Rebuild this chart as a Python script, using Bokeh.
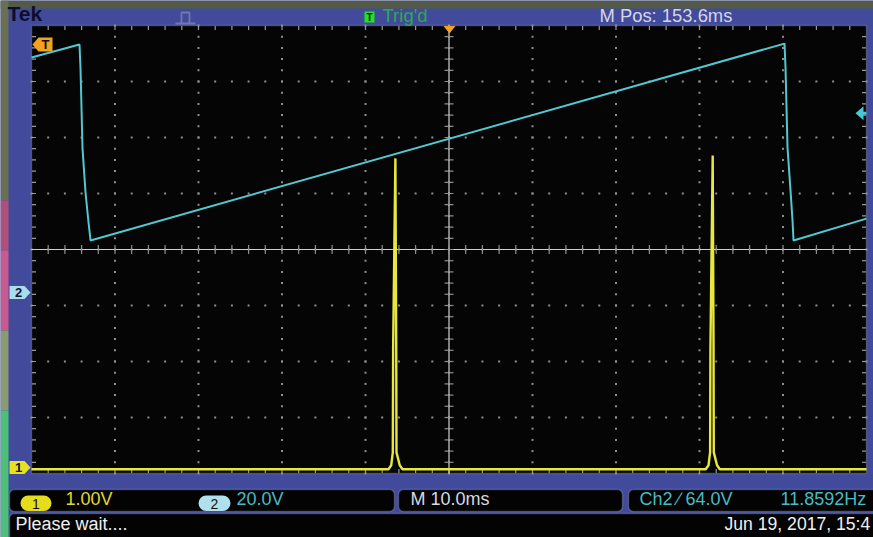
import numpy as np
from bokeh.plotting import figure
from bokeh.models import Range1d, Label, BoxAnnotation, PolyAnnotation
from bokeh.embed import file_html
from bokeh.resources import INLINE

# ---------------- scope settings ----------------
TIME_PER_DIV_MS = 10.0
CH1_VOLTS_PER_DIV = 1.0
CH2_VOLTS_PER_DIV = 20.0
CH1_POSITION_DIV = -3.893
CH2_POSITION_DIV = -0.768
TRIGGER_LEVEL_V = 64.0

# ---------------- channel 2 (cyan sawtooth) ----------------
ch2_time_ms = [-50.0, -44.25, -44.13, -43.89, -43.53, -43.17, -42.93,
               40.18, 40.30, 40.54, 40.90, 41.14, 41.26, 50.0]
ch2_volts = [83.9, 88.6, 80.0, 51.4, 35.7, 25.0, 18.6,
             88.9, 80.4, 51.8, 36.4, 25.7, 18.6, 26.4]

# ---------------- channel 1 (yellow pulses) ----------------
ch1_time_ms = [-50.0, -7.25, -6.92, -6.73, -6.69, -6.42, -6.32, -6.29, -5.90, -5.57,
               30.75, 31.08, 31.27, 31.31, 31.58, 31.68, 31.71, 32.10, 32.43, 50.0]
ch1_volts = [-0.03, -0.03, 0.04, 0.27, 2.14, 5.52, 2.14, 0.27, 0.04, -0.03,
             -0.03, 0.04, 0.27, 2.14, 5.57, 2.14, 0.27, 0.04, -0.03, -0.03]

# ---------------- readouts ----------------
brand = "Tek"
trig_state = "Trig'd"
m_pos = "M Pos: 153.6ms"
ch1_scale_txt = "1.00V"
ch2_scale_txt = "20.0V"
timebase_txt = "M 10.0ms"
trig_txt = "Ch2 \u2215 64.0V"
freq_txt = "11.8592Hz"
status_txt = "Please wait...."
date_txt = "Jun 19, 2017, 15:4"

# ---------------- geometry helpers (window px -> data) ----------------
W, H = 873, 537
FR_L, FR_T, FR_W, FR_H = 31, 25, 835, 448
XC = FR_L + FR_W / 2.0
YC = FR_T + FR_H / 2.0
PX_MS = FR_W / (10 * TIME_PER_DIV_MS)
PX_DIV = FR_H / 8.0


def X(px):
    return (px - XC) / PX_MS


def Y(py):
    return (YC - py) / PX_DIV


def ch_range(pos, scale):
    return Range1d((Y(H) - pos) * scale, (Y(0) - pos) * scale)


BLUE = "#414a9b"
p = figure(width=W, height=H,
           x_range=Range1d(X(0), X(W)), y_range=Range1d(Y(H), Y(0)),
           output_backend="svg", toolbar_location=None,
           x_axis_location=None, y_axis_location=None,
           min_border=0, background_fill_color=BLUE, border_fill_color=BLUE,
           outline_line_color=None)
p.grid.visible = False

# wallpaper strips around the screen
for l, r, t, b, col in [(0, W, 0, 8, "#545a48"), (0, 8, 0, 200, "#6a7052"),
                        (0, 8, 200, 250, "#b0507a"), (0, 8, 250, 330, "#c85a90"),
                        (0, 8, 330, 410, "#8a9a72"), (0, 8, 410, H, "#4cc078")]:
    p.add_layout(BoxAnnotation(left=X(l), right=X(r), top=Y(t), bottom=Y(b),
                               fill_color=col, fill_alpha=1, line_color=None, level="underlay"))

# screen area
p.add_layout(BoxAnnotation(left=-50, right=50, bottom=-4, top=4, fill_color="#050505", fill_alpha=1,
                           line_color="#b4b8cc", line_width=1.5, level="underlay"))

x_major = [-40, -30, -20, -10, 0, 10, 20, 30, 40]
y_major = [-3, -2, -1, 0, 1, 2, 3]
x_minor = [float(v) for v in np.arange(-48, 48.01, 2.0)]
y_minor = [float(v) for v in np.round(np.arange(-3.8, 3.801, 0.2), 3)]

# dotted graticule
gxs, gys = [], []
for xm in x_major:
    for ym in [-4.0] + y_minor + [4.0]:
        gxs.append(xm); gys.append(ym)
for ym in y_major:
    for xm in [-50.0] + x_minor + [50.0]:
        gxs.append(xm); gys.append(ym)
p.scatter(gxs, gys, marker="square", size=2, fill_color="#8e8e8e", line_color=None)

# edge ticks
tk = dict(marker="dash", size=4, line_color="#9a9a9a", line_width=1.2)
p.scatter(x_minor, [4 - 2.5 / PX_DIV] * len(x_minor), angle=np.pi / 2, **tk)
p.scatter(x_minor, [-4 + 2.5 / PX_DIV] * len(x_minor), angle=np.pi / 2, **tk)
p.scatter([-50 + 2.5 / PX_MS] * len(y_minor), y_minor, **tk)
p.scatter([50 - 2.5 / PX_MS] * len(y_minor), y_minor, **tk)

# centre cross-hair
p.segment(x0=[0, -50], y0=[-4, 0], x1=[0, 50], y1=[4, 0], line_color="#d0d0d0", line_width=1.2)
p.scatter(x=[0] * len(y_minor), y=y_minor, marker="dash", size=9, line_color="#8e8e8e", line_width=1.2)
p.scatter(x=x_minor, y=[0] * len(x_minor), marker="dash", angle=np.pi / 2, size=9,
          line_color="#8e8e8e", line_width=1.2)

# channel ranges
p.extra_y_ranges = {"ch1": ch_range(CH1_POSITION_DIV, CH1_VOLTS_PER_DIV),
                    "ch2": ch_range(CH2_POSITION_DIV, CH2_VOLTS_PER_DIV)}

p.line(ch1_time_ms, ch1_volts, y_range_name="ch1", line_color="#e8e83c", line_width=2.4)
p.line(ch2_time_ms, ch2_volts, y_range_name="ch2", line_color="#52c8d2", line_width=2.0)

ORANGE = "#f2a21e"
# trigger position marker (top) and T marker (left)
p.add_layout(PolyAnnotation(xs=[X(443), X(455), X(449)], ys=[Y(25.5), Y(25.5), Y(33)],
                            fill_color=ORANGE, fill_alpha=1, line_color=None))
p.add_layout(PolyAnnotation(xs=[X(32), X(38), X(52), X(52), X(38)], ys=[Y(44), Y(37), Y(37), Y(51), Y(51)],
                            fill_color=ORANGE, fill_alpha=1, line_color=None))
p.add_layout(Label(x=X(45), y=Y(44), text="T", text_font="Liberation Sans", text_font_style="bold",
                   text_font_size="13px", text_color="#111111", text_align="center", text_baseline="middle"))
# trigger level arrow (right)
ty = CH2_POSITION_DIV + TRIGGER_LEVEL_V / CH2_VOLTS_PER_DIV
typ = YC - ty * PX_DIV
p.add_layout(PolyAnnotation(xs=[X(855), X(863), X(863), X(866), X(866), X(863), X(863)],
                            ys=[Y(typ), Y(typ - 7), Y(typ - 1.5), Y(typ - 1.5), Y(typ + 1.5), Y(typ + 1.5), Y(typ + 7)],
                            fill_color="#44c8d2", fill_alpha=1, line_color=None))

# channel ground markers on the left
for ch, pos, col in [("2", CH2_POSITION_DIV, "#a9dcec"), ("1", CH1_POSITION_DIV, "#e8e022")]:
    cy = YC - pos * PX_DIV
    p.add_layout(PolyAnnotation(xs=[X(9), X(24), X(30), X(24), X(9)],
                                ys=[Y(cy - 6.5), Y(cy - 6.5), Y(cy), Y(cy + 6.5), Y(cy + 6.5)],
                                fill_color=col, fill_alpha=1, line_color=None))
    p.add_layout(Label(x=X(18), y=Y(cy), text=ch, text_font="Liberation Sans", text_font_style="bold",
                       text_font_size="13px", text_color="#14163a", text_align="center", text_baseline="middle"))

# header
p.add_layout(Label(x=X(7), y=Y(24), text=brand, text_font="Liberation Sans", text_font_style="bold",
                   text_font_size="21px", text_color="#0c0e2e"))
p.add_layout(PolyAnnotation(xs=[X(175), X(181), X(181), X(189), X(189), X(195)],
                            ys=[Y(23), Y(23), Y(12), Y(12), Y(23), Y(23)],
                            fill_alpha=0, line_color="#e0e0e0", line_width=1.8))
p.add_layout(BoxAnnotation(left=X(364), right=X(374), top=Y(11), bottom=Y(22),
                           fill_color="#22e022", fill_alpha=1, line_color=None))
p.add_layout(Label(x=X(369), y=Y(16.5), text="T", text_font="Liberation Sans", text_font_style="bold",
                   text_font_size="10px", text_color="#0a0a0a", text_align="center", text_baseline="middle"))
p.add_layout(Label(x=X(382), y=Y(25), text=trig_state, text_font="Liberation Sans",
                   text_font_size="18.5px", text_color="#2caa4c"))
p.add_layout(Label(x=X(599), y=Y(25), text=m_pos, text_font="Liberation Sans",
                   text_font_size="18.4px", text_color="#d4d6e6"))

# footer boxes
for l, r, t, b in [(9, 394, 489, 511), (398, 622, 489, 511), (628, 890, 489, 511), (9, 890, 513, 550)]:
    p.add_layout(BoxAnnotation(left=X(l), right=X(r), top=Y(t), bottom=Y(b),
                               fill_color="#030303", fill_alpha=1, line_color="#b4bade",
                               line_width=1.5, border_radius=5))

for l, r, col, ch in [(20, 51, "#e6dc1e", "1"), (198, 230, "#aee0ee", "2")]:
    p.add_layout(BoxAnnotation(left=X(l), right=X(r), top=Y(495), bottom=Y(510.5),
                               fill_color=col, fill_alpha=1, line_color=None, border_radius=8))
    p.add_layout(Label(x=X((l + r) / 2), y=Y(503), text=ch, text_font="Liberation Sans",
                       text_font_size="14px", text_color="#111111", text_align="center", text_baseline="middle"))

CYAN_TXT = "#46bcc4"
for px, py, txt, col, fs in [(65, 508, ch1_scale_txt, "#e2d82a", "18px"), (236, 508, ch2_scale_txt, CYAN_TXT, "18px"),
                             (410, 508, timebase_txt, "#d6d8e4", "18px"), (639, 508, trig_txt, CYAN_TXT, "18px"),
                             (780, 508, freq_txt, CYAN_TXT, "18px"), (15, 533, status_txt, "#f0f0f0", "18px"),
                             (724, 533, date_txt, "#f0f0f0", "17.6px")]:
    p.add_layout(Label(x=X(px), y=Y(py), text=txt, text_font="Liberation Sans",
                       text_font_size=fs, text_color=col))

open("out.html", "w").write(file_html(p, INLINE))
